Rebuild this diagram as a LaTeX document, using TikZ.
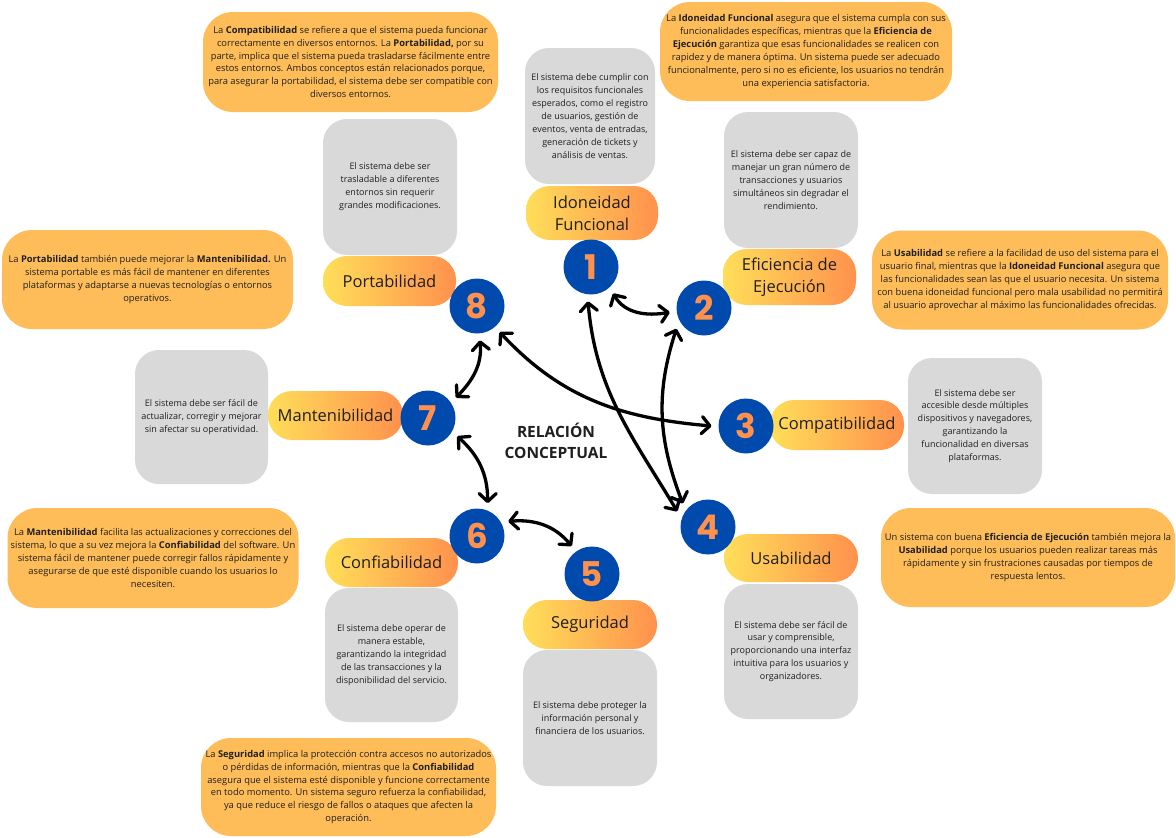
\documentclass[tikz,border=0pt]{standalone}
\usepackage{fontspec}
\setmainfont{Open Sans}
\newfontfamily\numfont{Poppins}
\usetikzlibrary{arrows.meta}
\definecolor{cblue}{HTML}{004AAD}
\definecolor{cnum}{HTML}{FF914D}
\definecolor{pillL}{HTML}{FFDE59}
\definecolor{pillR}{HTML}{FF914D}
\definecolor{obox}{HTML}{FFBD59}
\definecolor{gbox}{HTML}{D9D9D9}
\definecolor{ink}{HTML}{1F1F1F}
\begin{document}
\begin{tikzpicture}[x=1pt,y=-1pt,
 orangebox/.style={fill=obox, rounded corners=30pt, inner sep=0pt, align=center, text=ink, font=\fontsize{9.35}{12.9}\selectfont},
 graybox/.style={fill=gbox, rounded corners=24pt, inner sep=0pt, align=center, text=ink, font=\fontsize{9.0}{12.9}\selectfont, minimum width=134pt, minimum height=136pt},
 pill/.style={left color=pillL, right color=pillR, rounded corners=24pt, inner sep=0pt, align=center, text=ink, font=\fontsize{16.5}{21.7}\selectfont, minimum width=134pt, minimum height=50pt},
 numc/.style={circle, fill=cblue, minimum size=55pt, inner sep=0pt, outer sep=7pt, text=cnum, font=\numfont\bfseries\fontsize{34}{34}\selectfont},
 conn/.style={line width=3.3pt, {Straight Barb[round,length=8pt,width=17pt]}-{Straight Barb[round,length=8pt,width=17pt]}},
]
\useasboundingbox (0,0) rectangle (1176,838);
\fill[white] (0,0) rectangle (1176,838);

% orange explanation boxes
\node[orangebox, minimum width=295pt, minimum height=100pt] (t1) at (350.5,62) {La {\bfseries Compatibilidad} se refiere a que el sistema pueda funcionar\\correctamente en diversos entornos. La {\bfseries Portabilidad,} por su\\parte, implica que el sistema pueda trasladarse fácilmente entre\\estos entornos. Ambos conceptos están relacionados porque,\\para asegurar la portabilidad, el sistema debe ser compatible con\\diversos entornos.};
\node[orangebox, minimum width=292pt, minimum height=99pt] (t2) at (806,51.5) {La {\bfseries Idoneidad Funcional} asegura que el sistema cumpla con sus\\funcionalidades específicas, mientras que la {\bfseries Eficiencia de}\\{\bfseries Ejecución} garantiza que esas funcionalidades se realicen con\\rapidez y de manera óptima. Un sistema puede ser adecuado\\funcionalmente, pero si no es eficiente, los usuarios no tendrán\\una experiencia satisfactoria.};
\node[orangebox, minimum width=291pt, minimum height=99pt] (t3) at (147.5,279.5) {La {\bfseries Portabilidad} también puede mejorar la {\bfseries Mantenibilidad.} Un\\sistema portable es más fácil de mantener en diferentes\\plataformas y adaptarse a nuevas tecnologías o entornos\\operativos.};
\node[orangebox, minimum width=296pt, minimum height=99pt] (t4) at (1020,280) {La {\bfseries Usabilidad} se refiere a la facilidad de uso del sistema para el\\usuario final, mientras que la {\bfseries Idoneidad Funcional} asegura que\\las funcionalidades sean las que el usuario necesita. Un sistema\\con buena idoneidad funcional pero mala usabilidad no permitirá\\al usuario aprovechar al máximo las funcionalidades ofrecidas.};
\node[orangebox, minimum width=291pt, minimum height=100pt] (t5) at (153,558) {La {\bfseries Mantenibilidad} facilita las actualizaciones y correcciones del\\sistema, lo que a su vez mejora la {\bfseries Confiabilidad} del software. Un\\sistema fácil de mantener puede corregir fallos rápidamente y\\asegurarse de que esté disponible cuando los usuarios lo\\necesiten.};
\node[orangebox, minimum width=294pt, minimum height=99pt] (t6) at (1028,557.5) {Un sistema con buena {\bfseries Eficiencia de Ejecución} también mejora la\\{\bfseries Usabilidad} porque los usuarios pueden realizar tareas más\\rápidamente y sin frustraciones causadas por tiempos de\\respuesta lentos.};
\node[orangebox, minimum width=295pt, minimum height=98pt] (t7) at (348.5,787) {La {\bfseries Seguridad} implica la protección contra accesos no autorizados\\o pérdidas de información, mientras que la {\bfseries Confiabilidad}\\asegura que el sistema esté disponible y funcione correctamente\\en todo momento. Un sistema seguro refuerza la confiabilidad,\\ya que reduce el riesgo de fallos o ataques que afecten la\\operación.};

% gray description boxes
\node[graybox, minimum width=130pt] (g1) at (590,116) {El sistema debe cumplir con\\los requisitos funcionales\\esperados, como el registro\\de usuarios, gestión de\\eventos, venta de entradas,\\generación de tickets y\\análisis de ventas.};
\node[graybox] (g2) at (791,180) {El sistema debe ser capaz de\\manejar un gran número de\\transacciones y usuarios\\simultáneos sin degradar el\\rendimiento.};
\node[graybox] (g8) at (390,187) {El sistema debe ser\\trasladable a diferentes\\entornos sin requerir\\grandes modificaciones.};
\node[graybox, minimum width=133pt, minimum height=134pt] (g7) at (201.5,417) {El sistema debe ser fácil de\\actualizar, corregir y mejorar\\sin afectar su operatividad.};
\node[graybox] (g3) at (975,426) {El sistema debe ser\\accesible desde múltiples\\dispositivos y navegadores,\\garantizando la\\funcionalidad en diversas\\plataformas.};
\node[graybox, minimum height=135pt] (g4) at (791,651.5) {El sistema debe ser fácil de\\usar y comprensible,\\proporcionando una interfaz\\intuitiva para los usuarios y\\organizadores.};
\node[graybox, minimum width=133pt, minimum height=134pt] (g6) at (391.5,655) {El sistema debe operar de\\manera estable,\\garantizando la integridad\\de las transacciones y la\\disponibilidad del servicio.};
\node[graybox] (g5) at (590,718) {El sistema debe proteger la\\información personal y\\financiera de los usuarios.};

% label pills
\node[pill, minimum width=132pt, minimum height=54pt] (p1) at (592,213) {Idoneidad\\Funcional};
\node[pill, minimum width=133pt, minimum height=56pt] (p2) at (789.5,277) {Eficiencia de\\Ejecución};
\node[pill, minimum width=133pt] (p8) at (389.5,281) {Portabilidad};
\node[pill, minimum width=135pt, minimum height=49pt] (p7) at (335.5,415.5) {Mantenibilidad};
\node[pill] (p3) at (837,425) {Compatibilidad};
\node[pill, minimum height=48pt] (p4) at (791,558) {Usabilidad};
\node[pill, minimum width=133pt, minimum height=49pt] (p6) at (391.5,562.5) {Confiabilidad};
\node[pill, minimum height=49pt] (p5) at (590,624.5) {Seguridad};

% numbered circles
\node[numc] (c1) at (591,267) {1};
\node[numc] (c2) at (704,308) {2};
\node[numc] (c3) at (746,426) {3};
\node[numc] (c4) at (708,527) {4};
\node[numc] (c5) at (592,574) {5};
\node[numc] (c6) at (477,536) {6};
\node[numc] (c7) at (428,418) {7};
\node[numc] (c8) at (477,306) {8};

% center title
\node[font=\bfseries\fontsize{15.5}{21.3}\selectfont, align=center, text=ink] (title) at (556,441) {RELACIÓN\\CONCEPTUAL};

% connectors
\draw[conn] (c1.-50) to[out=-60,in=190] (c2.187);
\draw[conn] (c1.-95) to[out=-85,in=121] (c4.153);
\draw[conn] (c2.-143) to[out=-108,in=111] (c4.137);
\draw[conn] (c8.-49) to[out=-47,in=175] (c3.180);
\draw[conn] (c8.-85) to[out=-85,in=46] (c7.36);
\draw[conn] (c7.-32) to[out=-42,in=90] (c6.72);
\draw[conn] (c6.25) to[out=5,in=130] (c5.126);
\end{tikzpicture}
\end{document}
